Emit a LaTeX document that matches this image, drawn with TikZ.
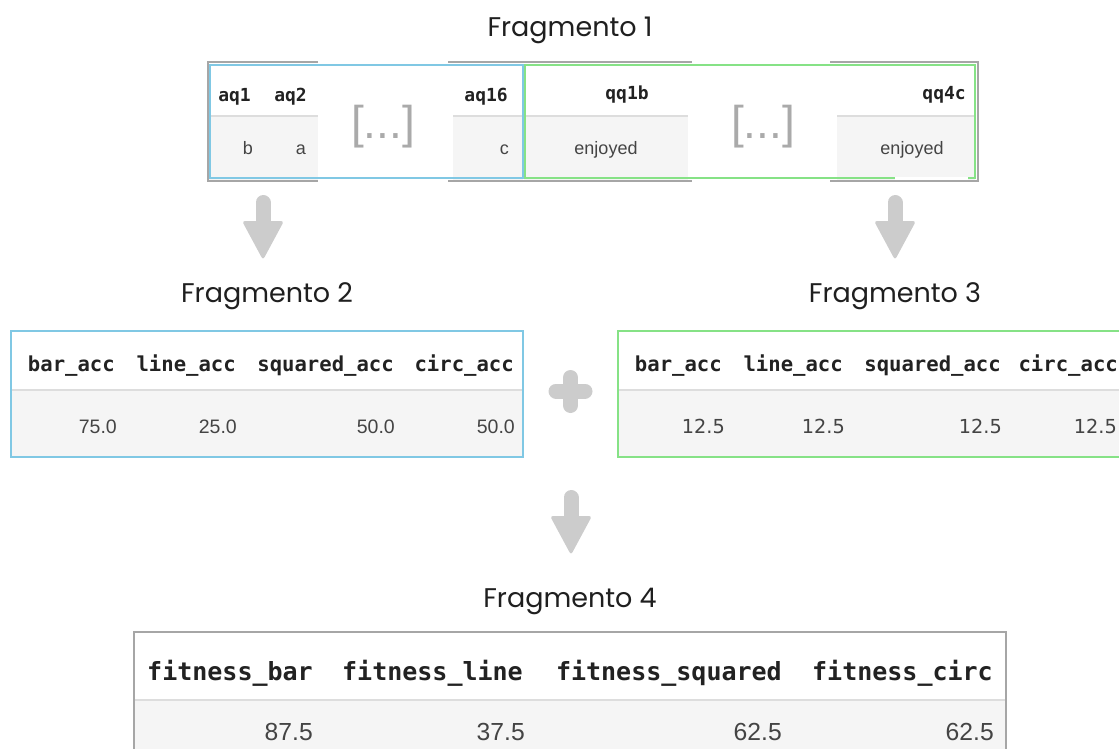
\documentclass[tikz,border=0pt]{standalone}
\usepackage{fontspec}
\setmainfont{Liberation Sans}
\newfontfamily\titlefont{Poppins}
\newfontfamily\monofont{DejaVu Sans Mono}
\newfontfamily\dvfont{DejaVu Sans}
\definecolor{hdrtext}{HTML}{222222}
\definecolor{valtext}{HTML}{444444}
\definecolor{rowgray}{HTML}{F5F5F5}
\definecolor{sepgray}{HTML}{DDDDDD}
\definecolor{bordergray}{HTML}{A6A6A6}
\definecolor{fragblue}{HTML}{80C8E4}
\definecolor{fraggreen}{HTML}{86E286}
\definecolor{arrowgray}{HTML}{CCCCCC}
\definecolor{dotsgray}{HTML}{AAAAAA}
\begin{document}
\begin{tikzpicture}[x=1pt,y=-1pt,
  ttl/.style={font=\titlefont\fontsize{27}{30}\selectfont, text=black!88, inner sep=0, anchor=base},
  hdrS/.style={font=\monofont\bfseries\fontsize{18}{20}\selectfont, text=hdrtext, inner sep=0, anchor=base east},
  hdrM/.style={font=\monofont\bfseries\fontsize{20.6}{24}\selectfont, text=hdrtext, inner sep=0, anchor=base east},
  hdrL/.style={font=\monofont\bfseries\fontsize{25}{28}\selectfont, text=hdrtext, inner sep=0, anchor=base east},
  valS/.style={font=\fontsize{18}{20}\selectfont, text=valtext, inner sep=0, anchor=base east},
  valM/.style={font=\fontsize{19.5}{22}\selectfont, text=valtext, inner sep=0, anchor=base east},
  valD/.style={font=\dvfont\fontsize{19.3}{22}\selectfont, text=valtext, inner sep=0, anchor=base east},
  valL/.style={font=\fontsize{24.7}{28}\selectfont, text=valtext, inner sep=0, anchor=base east},
  dots/.style={font=\fontsize{46}{50}\selectfont, text=dotsgray, inner sep=0},
  rowfill/.style={fill=rowgray},
  sepline/.style={draw=sepgray, line width=1.2},
  tblborder/.style={draw=bordergray, line width=2.4},
  bluefrag/.style={draw=fragblue, line width=2.6},
  greenfrag/.style={draw=fraggreen, line width=2.6},
  plusbar/.style={draw=arrowgray, line width=15, line cap=round},
  downarrow/.pic={
    \draw[arrowgray, line width=15, line cap=round] (0,7.5) -- (0,30);
    \fill[arrowgray, rounded corners=3] (-21,26) -- (21,26) -- (0,65) -- cycle;
  }
]
\useasboundingbox (0,0) rectangle (1119,749);

% ---------- Fragmento 1 ----------
\node[ttl] (t1) at (570,37) {Fragmento 1};

\fill[rowfill] (209,116) rectangle (318,181);
\fill[rowfill] (453,116) rectangle (523,181);
\fill[rowfill] (524,116) rectangle (688,181);
\fill[rowfill] (837,116) rectangle (975,181);
\draw[sepline] (209,116) -- (318,116);
\draw[sepline] (453,116) -- (523,116);
\draw[sepline] (524,116) -- (688,116);
\draw[sepline] (837,116) -- (975,116);
\draw[tblborder] (318,62) -- (208,62) -- (208,181) -- (318,181);
\draw[tblborder] (448,62) -- (692,62);
\draw[tblborder] (448,181) -- (692,181);
\draw[tblborder] (830,62) -- (978,62) -- (978,181) -- (830,181);

\node[hdrS] (aq1) at (251,102) {aq1};
\node[hdrS] (aq2) at (307,102) {aq2};
\node[valS] (vb) at (253,155) {b};
\node[valS] (va) at (306,155) {a};
\node[dots] (gap1) at (383,127) {[...]};
\node[hdrS] (aq16) at (508,102) {aq16};
\node[valS] (vc) at (509,155) {c};
\node[hdrS, anchor=base] (qq1b) at (627,100) {qq1b};
\node[valS, anchor=base] (enj1) at (606,154) {enjoyed};
\node[dots] (gap2) at (763,127) {[...]};
\node[hdrS] (qq4c) at (966,100) {qq4c};
\node[valS, anchor=base] (enj2) at (912,154) {enjoyed};

\draw[bluefrag] (210,65) rectangle (523,178);
\draw[greenfrag] (525,65) rectangle (975,178);
\fill[white] (895,176.5) rectangle (968,180);

% arrows
\pic at (263,195) {downarrow};
\pic at (895,195) {downarrow};

% ---------- Fragmento 2 ----------
\node[ttl] (t2) at (267,302) {Fragmento 2};
\fill[rowfill] (11,390) rectangle (523,457);
\draw[sepline] (11,390) -- (523,390);
\draw[bluefrag] (11,331) rectangle (523,457);
\node[hdrM] (b2h1) at (115,371) {bar\_acc};
\node[hdrM] (b2h2) at (236,371) {line\_acc};
\node[hdrM] (b2h3) at (394,371) {squared\_acc};
\node[hdrM] (b2h4) at (514,371) {circ\_acc};
\node[valM] (b2v1) at (117,433) {75.0};
\node[valM] (b2v2) at (237,433) {25.0};
\node[valM] (b2v3) at (395,433) {50.0};
\node[valM] (b2v4) at (515,433) {50.0};

% plus
\draw[plusbar] (556,391) -- (585,391);
\draw[plusbar] (570.5,377.5) -- (570.5,405.5);

% ---------- Fragmento 3 ----------
\node[ttl] (t3) at (895,302) {Fragmento 3};
\fill[rowfill] (618,390) rectangle (1130,457);
\draw[sepline] (618,390) -- (1130,390);
\draw[greenfrag] (618,331) rectangle (1130,457);
\node[hdrM] (b3h1) at (722,371) {bar\_acc};
\node[hdrM] (b3h2) at (843,371) {line\_acc};
\node[hdrM] (b3h3) at (1001,371) {squared\_acc};
\node[hdrM] (b3h4) at (1118,371) {circ\_acc};
\node[valD] (b3v1) at (725,433) {12.5};
\node[valD] (b3v2) at (845,433) {12.5};
\node[valD] (b3v3) at (1002,433) {12.5};
\node[valD] (b3v4) at (1117,433) {12.5};

% middle arrow
\pic at (571,490) {downarrow};

% ---------- Fragmento 4 ----------
\node[ttl] (t4) at (570,607) {Fragmento 4};
\fill[rowfill] (135,700) rectangle (1005,760);
\draw[sepline] (135,700) -- (1005,700);
\draw[tblborder, line width=2] (134,760) -- (134,632) -- (1006,632) -- (1006,760);
\node[hdrL] (b4h1) at (313,680) {fitness\_bar};
\node[hdrL] (b4h2) at (523,680) {fitness\_line};
\node[hdrL] (b4h3) at (782,680) {fitness\_squared};
\node[hdrL] (b4h4) at (993,680) {fitness\_circ};
\node[valL] (b4v1) at (313,740) {87.5};
\node[valL] (b4v2) at (525,740) {37.5};
\node[valL] (b4v3) at (782,740) {62.5};
\node[valL] (b4v4) at (994,740) {62.5};
\end{tikzpicture}
\end{document}
